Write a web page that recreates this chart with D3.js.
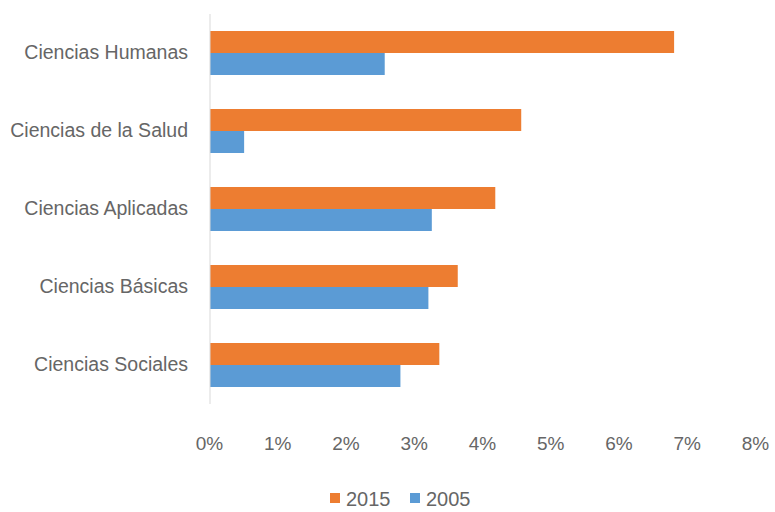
<!DOCTYPE html>
<html>
<head>
<meta charset="utf-8">
<script src="https://cdn.jsdelivr.net/npm/d3@7"></script>
<style>
  body { margin: 0; background: #fff; }
  text { font-family: "Liberation Sans", Arial, sans-serif; fill: #666; }
</style>
</head>
<body>
<div id="chart"></div>
<script>
// data
var categories = ["Ciencias Humanas", "Ciencias de la Salud", "Ciencias Aplicadas", "Ciencias Básicas", "Ciencias Sociales"];
var series = ["2015", "2005"];
var values2015 = [6.80, 4.56, 4.18, 3.63, 3.36];
var values2005 = [2.56, 0.50, 3.25, 3.20, 2.79];
var xTicks = [0, 1, 2, 3, 4, 5, 6, 7, 8];
var colors = ["#ED7D31", "#5B9BD5"];

var svgWidth = 775;
var svgHeight = 512;

var margin = { top: 14, right: 18, bottom: 108, left: 210 };
var width = svgWidth - margin.left - margin.right;
var height = svgHeight - margin.top - margin.bottom;

var svg = d3.select("#chart")
  .append("svg")
  .attr("width", svgWidth)
  .attr("height", svgHeight);

var chartGroup = svg.append("g")
  .attr("transform", `translate(${margin.left}, ${margin.top})`);

var rows = categories.map(function(c, i) {
  return { cat: c, vals: [values2015[i], values2005[i]] };
});

var xScale = d3.scaleLinear()
  .domain([0, 8])
  .range([0, 546]);

var yScale = d3.scaleBand()
  .domain(categories)
  .range([0, height])
  .paddingInner(0.436)
  .paddingOuter(0.218);

var ySub = d3.scaleBand()
  .domain(series)
  .range([0, yScale.bandwidth()]);

// bars
var groups = chartGroup.selectAll(".cat")
  .data(rows)
  .enter()
  .append("g")
  .attr("transform", d => `translate(0, ${yScale(d.cat)})`);

groups.selectAll("rect")
  .data(d => d.vals.map((v, j) => ({ s: series[j], v: v, c: colors[j] })))
  .enter()
  .append("rect")
  .attr("x", 0)
  .attr("y", d => ySub(d.s))
  .attr("width", d => xScale(d.v))
  .attr("height", ySub.bandwidth())
  .attr("fill", d => d.c);

// vertical axis line
chartGroup.append("line")
  .attr("x1", 0).attr("x2", 0)
  .attr("y1", 0).attr("y2", height)
  .attr("stroke", "#d9d9d9")
  .attr("stroke-width", 1);

// category labels
var leftAxis = d3.axisLeft(yScale).tickSize(0).tickPadding(22);
var yAxisG = chartGroup.append("g").call(leftAxis);
yAxisG.select(".domain").remove();
yAxisG.selectAll("text")
  .attr("font-size", "19.5px")
  .attr("fill", "#666")
  .style("font-family", "'Liberation Sans', Arial, sans-serif");

// x tick labels
var bottomAxis = d3.axisBottom(xScale)
  .tickValues(xTicks)
  .tickSize(0)
  .tickPadding(33)
  .tickFormat(d => d + "%");
var xAxisG = chartGroup.append("g")
  .attr("transform", `translate(-1, ${height})`)
  .call(bottomAxis);
xAxisG.select(".domain").remove();
xAxisG.selectAll("text")
  .attr("font-size", "19px")
  .attr("fill", "#666")
  .style("font-family", "'Liberation Sans', Arial, sans-serif");

// legend
var legend = svg.append("g")
  .attr("transform", "translate(330, 498)");

var legendItems = legend.selectAll("g")
  .data(series)
  .enter()
  .append("g")
  .attr("transform", (d, i) => `translate(${i * 80}, 0)`);

legendItems.append("rect")
  .attr("x", 0)
  .attr("y", -5)
  .attr("width", 10)
  .attr("height", 10)
  .attr("fill", (d, i) => colors[i]);

legendItems.append("text")
  .attr("x", 16)
  .attr("y", 1)
  .attr("dy", "0.35em")
  .attr("font-size", "20px")
  .text(d => d);
</script>
</body>
</html>
